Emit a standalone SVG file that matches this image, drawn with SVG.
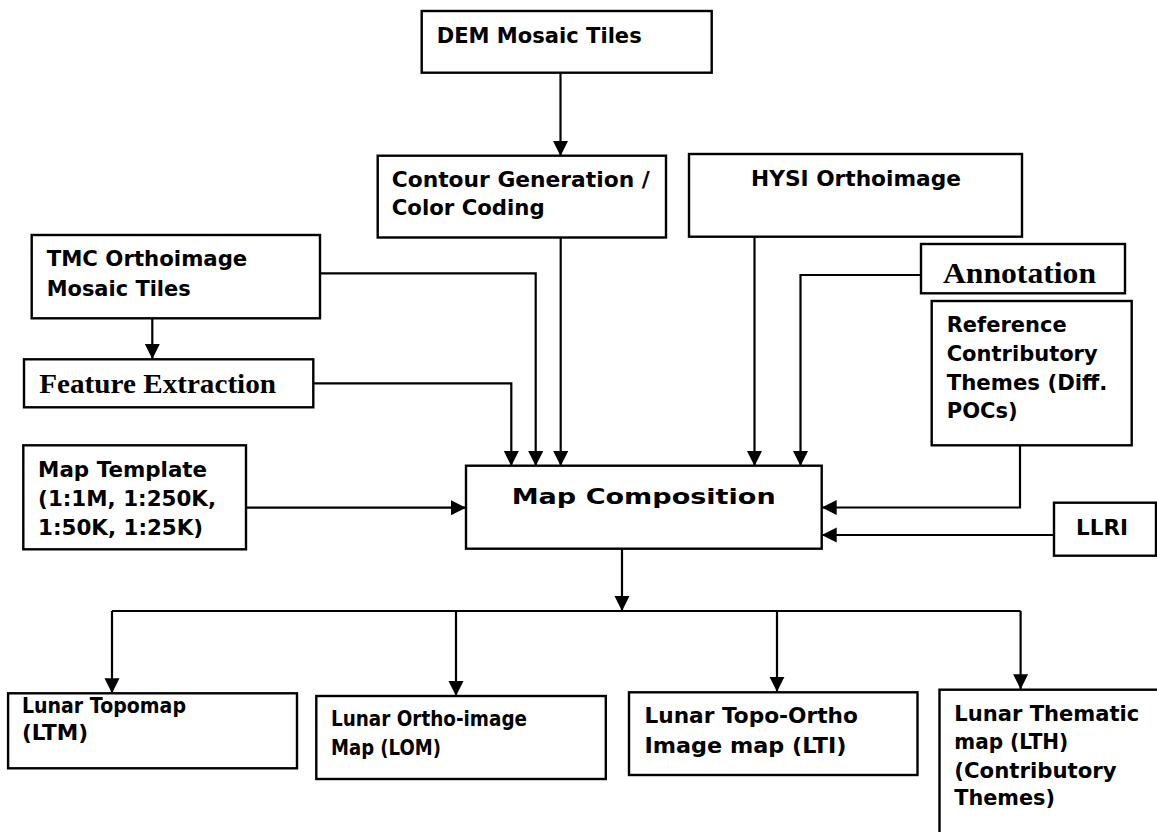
<svg xmlns="http://www.w3.org/2000/svg" width="1157" height="832" viewBox="0 0 1157 832">
<defs>
<style>
.box{fill:#fff;stroke:#000;stroke-width:2.4}
.t{font-family:"DejaVu Sans","Liberation Sans",sans-serif;font-weight:bold;font-size:21.5px;fill:#000}
.b{font-size:20.5px}
.s{font-family:"Liberation Serif","Times New Roman",serif;font-weight:bold;fill:#000}
.c{fill:none;stroke:#000;stroke-width:2.2}
</style>
<marker id="ah" markerUnits="userSpaceOnUse" markerWidth="16" markerHeight="16" refX="15" refY="7.5" orient="auto">
<path d="M0,0 L15,7.5 L0,15 z" fill="#000"/>
</marker>
</defs>
<rect width="1157" height="832" fill="#fff"/>

<g id="connectors">
<path class="c" d="M560.5,73 V156" marker-end="url(#ah)"/>
<path class="c" d="M560.7,237.5 V466" marker-end="url(#ah)"/>
<path class="c" d="M320,273.3 H535.7 V466" marker-end="url(#ah)"/>
<path class="c" d="M152.3,318.3 V359" marker-end="url(#ah)"/>
<path class="c" d="M313.3,383.3 H511.3 V466" marker-end="url(#ah)"/>
<path class="c" d="M246,507.7 H466" marker-end="url(#ah)"/>
<path class="c" d="M754.5,236.7 V466" marker-end="url(#ah)"/>
<path class="c" d="M921,275 H800.5 V466" marker-end="url(#ah)"/>
<path class="c" d="M1020,445.3 V507.5 H821.7" marker-end="url(#ah)"/>
<path class="c" d="M1054,535 H821.7" marker-end="url(#ah)"/>
<path class="c" d="M622,548.7 V611" marker-end="url(#ah)"/>
<path class="c" d="M112,611 H1020.6"/>
<path class="c" d="M112,611 V693.3" marker-end="url(#ah)"/>
<path class="c" d="M456,611 V696" marker-end="url(#ah)"/>
<path class="c" d="M777,611 V691.7" marker-end="url(#ah)"/>
<path class="c" d="M1020.6,611 V689.3" marker-end="url(#ah)"/>
</g>

<g id="dem">
<rect class="box" x="421.7" y="11" width="290" height="61.7"/>
<text class="t" x="436.7" y="42.7" textLength="205" lengthAdjust="spacingAndGlyphs">DEM Mosaic Tiles</text>
</g>

<g id="contour">
<rect class="box" x="377.7" y="155.7" width="288.3" height="81.8"/>
<text class="t" x="391.7" y="186.7" textLength="258" lengthAdjust="spacingAndGlyphs">Contour Generation /</text>
<text class="t" x="391.7" y="215" textLength="153" lengthAdjust="spacingAndGlyphs">Color Coding</text>
</g>

<g id="hysi">
<rect class="box" x="689" y="154" width="333" height="82.7"/>
<text class="t" x="751" y="186" textLength="210" lengthAdjust="spacingAndGlyphs">HYSI Orthoimage</text>
</g>

<g id="annotation">
<rect class="box" x="921" y="244" width="204" height="49.3"/>
<text class="s" x="943" y="282.7" font-size="30" textLength="153" lengthAdjust="spacingAndGlyphs">Annotation</text>
</g>

<g id="tmc">
<rect class="box" x="31.7" y="235" width="288.3" height="83.3"/>
<text class="t" x="46.7" y="265.7" textLength="200.6" lengthAdjust="spacingAndGlyphs">TMC Orthoimage</text>
<text class="t" x="46.7" y="296" textLength="144" lengthAdjust="spacingAndGlyphs">Mosaic Tiles</text>
</g>

<g id="feature">
<rect class="box" x="24" y="359.3" width="289.3" height="48"/>
<text class="s" x="39.3" y="393.3" font-size="27" textLength="236.7" lengthAdjust="spacingAndGlyphs">Feature Extraction</text>
</g>

<g id="template">
<rect class="box" x="23.3" y="445.3" width="222.7" height="104"/>
<text class="t" x="38.1" y="476.7" textLength="169" lengthAdjust="spacingAndGlyphs">Map Template</text>
<text class="t" x="38.1" y="505.7" textLength="178" lengthAdjust="spacingAndGlyphs">(1:1M, 1:250K,</text>
<text class="t" x="38.1" y="535" textLength="165" lengthAdjust="spacingAndGlyphs">1:50K, 1:25K)</text>
</g>

<g id="composition">
<rect class="box" x="466" y="465.7" width="355.7" height="83"/>
<text class="t" x="511.7" y="504" font-size="30" textLength="264" lengthAdjust="spacingAndGlyphs">Map Composition</text>
</g>

<g id="reference">
<rect class="box" x="931.7" y="301" width="200" height="144.3"/>
<text class="t" x="946.7" y="332.3" textLength="120" lengthAdjust="spacingAndGlyphs">Reference</text>
<text class="t" x="946.7" y="361" textLength="151" lengthAdjust="spacingAndGlyphs">Contributory</text>
<text class="t" x="946.7" y="390" textLength="160.7" lengthAdjust="spacingAndGlyphs">Themes (Diff.</text>
<text class="t" x="946.7" y="418.3" textLength="71" lengthAdjust="spacingAndGlyphs">POCs)</text>
</g>

<g id="llri">
<rect class="box" x="1054" y="502.7" width="102" height="53"/>
<text class="t" x="1076" y="535" textLength="52" lengthAdjust="spacingAndGlyphs">LLRI</text>
</g>

<g id="ltm">
<rect class="box" x="8.1" y="693.3" width="288.9" height="75"/>
<text class="t b" x="22" y="713" textLength="164" lengthAdjust="spacingAndGlyphs">Lunar Topomap</text>
<text class="t b" x="22" y="740" textLength="66" lengthAdjust="spacingAndGlyphs">(LTM)</text>
</g>

<g id="lom">
<rect class="box" x="316.3" y="696" width="289.5" height="83"/>
<text class="t b" x="331" y="726" textLength="196" lengthAdjust="spacingAndGlyphs">Lunar Ortho-image</text>
<text class="t b" x="331" y="755" textLength="110" lengthAdjust="spacingAndGlyphs">Map (LOM)</text>
</g>

<g id="lti">
<rect class="box" x="629" y="692.3" width="288.5" height="82.7"/>
<text class="t" x="644.4" y="723.3" textLength="213.5" lengthAdjust="spacingAndGlyphs">Lunar Topo-Ortho</text>
<text class="t" x="644.4" y="752.7" textLength="202" lengthAdjust="spacingAndGlyphs">Image map (LTI)</text>
</g>

<g id="lth">
<rect class="box" x="939.5" y="689.7" width="230" height="160"/>
<text class="t" x="954.3" y="720.5" textLength="185" lengthAdjust="spacingAndGlyphs">Lunar Thematic</text>
<text class="t" x="954.3" y="749" textLength="114" lengthAdjust="spacingAndGlyphs">map (LTH)</text>
<text class="t" x="954.3" y="777.5" textLength="162.4" lengthAdjust="spacingAndGlyphs">(Contributory</text>
<text class="t" x="954.3" y="805" textLength="100.7" lengthAdjust="spacingAndGlyphs">Themes)</text>
</g>
</svg>
